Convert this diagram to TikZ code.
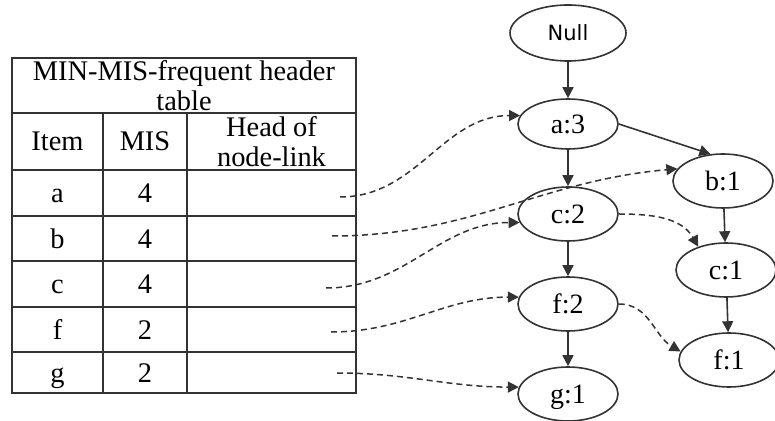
\documentclass[tikz,border=0pt]{standalone}
\usepackage{fontspec}
\setmainfont{Liberation Serif}
\newfontfamily\rootfont{DejaVu Sans}
\usepackage{tikz}
\usetikzlibrary{arrows.meta,shapes}
\definecolor{linegray}{HTML}{333333}
\tikzset{
  treenode/.style={ellipse,draw=linegray,line width=0.8pt,minimum width=50pt,minimum height=27pt,inner sep=0pt,text height=9.5pt,text depth=0pt,font=\fontsize{14}{16}\selectfont},
  rootnode/.style={ellipse,draw=linegray,line width=0.8pt,minimum width=58pt,minimum height=28pt,inner sep=0pt,font=\rootfont\fontsize{10.5}{12}\selectfont},
  cellnode/.style={inner sep=0pt,align=center,font=\fontsize{14.2}{15}\selectfont},
  rowcell/.style={cellnode,text height=9.6pt,text depth=0pt},
  gridline/.style={draw=linegray,line width=1pt},
  treeedge/.style={-{Triangle[length=5.5pt,width=5.5pt]},line width=0.8pt,linegray},
  linkedge/.style={treeedge,dash pattern=on 3pt off 2pt,line width=0.75pt},
}

\begin{document}
\begin{tikzpicture}[x=0.5pt,y=-0.5pt]
    \useasboundingbox (0,0) rectangle (775,421);
    % header table
    \draw[gridline] (12,58) rectangle (356,393);
    \foreach \ypos in {113,170,216,261,307,352}
      \draw[gridline] (12,\ypos) -- (356,\ypos);
    \foreach \xpos in {103,187}
      \draw[gridline] (\xpos,113) -- (\xpos,393);
    \node[cellnode] (title) at (184,86) {MIN-MIS-frequent header\\table};
    \node[cellnode] (itemhd) at (57.5,141.5) {Item};
    \node[cellnode] (mishd) at (145,141.5) {MIS};
    \node[cellnode] (headhd) at (271.5,141.5) {Head of\\node-link};
    \foreach \itm/\mis/\ypos in {a/4/193,b/4/238.5,c/4/284,f/2/329.5,g/2/372.5}{
      \node[rowcell] (item\itm) at (57.5,\ypos) {\itm};
      \node[rowcell] (mis\itm) at (145,\ypos) {\mis};
    }
    \coordinate (srca) at (340,197);
    \coordinate (srcb) at (332,236);
    \coordinate (srcc) at (326,288);
    \coordinate (srcf) at (331,332);
    \coordinate (srcg) at (337,373);
    % tree
    \node[rootnode] (null) at (568,33) {Null};
    \node[treenode,minimum height=25pt] (a3) at (568,124) {a:3};
    \node[treenode] (c2) at (568,214) {c:2};
    \node[treenode] (f2) at (568,304) {f:2};
    \node[treenode] (g1) at (568,394) {g:1};
    \node[treenode] (b1) at (723,181) {b:1};
    \node[treenode] (c1) at (726,270) {c:1};
    \node[treenode] (f1) at (729,360) {f:1};
    \draw[treeedge] (null) -- (a3);
    \draw[treeedge] (a3) -- (c2);
    \draw[treeedge] (c2) -- (f2);
    \draw[treeedge] (f2) -- (g1);
    \draw[treeedge] (a3.east) -- (b1.115);
    \draw[treeedge] (b1) -- (c1);
    \draw[treeedge] (c1) -- (f1);
    % node-links
    \draw[linkedge] (srca) to[out=0,in=180] (a3.170);
    \draw[linkedge] (srcb) to[out=0,in=185] (b1.165);
    \draw[linkedge] (srcc) to[out=0,in=180] (c2.190);
    \draw[linkedge] (srcf) to[out=0,in=180] (f2.172);
    \draw[linkedge] (srcg) to[out=0,in=180] (g1.172);
    \draw[linkedge] (c2.east) to[out=0,in=120] (c1.140);
    \draw[linkedge] (f2.east) to[out=0,in=150] (f1.170);
\end{tikzpicture}
\end{document}
